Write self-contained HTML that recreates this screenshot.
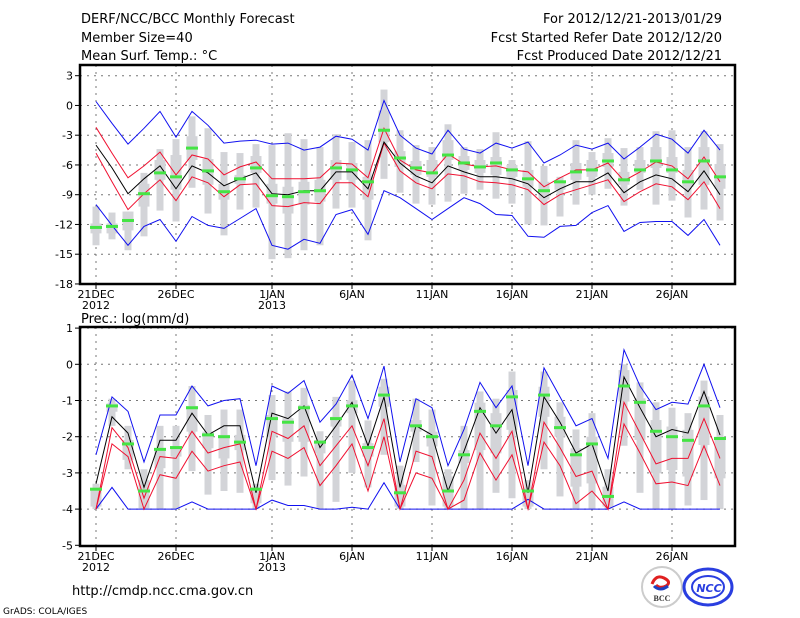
<!DOCTYPE html>
<html><head><meta charset="utf-8"><style>
html,body{margin:0;padding:0;background:#fff;}
svg{display:block;font-family:"DejaVu Sans","Liberation Sans",sans-serif;}
</style></head><body>
<svg id="chart" width="800" height="618" viewBox="0 0 800 618" xmlns="http://www.w3.org/2000/svg">
<rect width="800" height="618" fill="#fff"/>
<g font-size="13" fill="#000">
<text x="81" y="23">DERF/NCC/BCC Monthly Forecast</text>
<text x="81" y="42">Member Size=40</text>
<text x="81" y="60">Mean Surf. Temp.: °C</text>
<text x="722" y="23" text-anchor="end">For 2012/12/21-2013/01/29</text>
<text x="722" y="42" text-anchor="end">Fcst Started Refer Date 2012/12/20</text>
<text x="722" y="60" text-anchor="end">Fcst Produced Date 2012/12/21</text>
<text x="81" y="323">Prec.: log(mm/d)</text>
<text x="72" y="595">http://cmdp.ncc.cma.gov.cn</text>
<text x="3" y="614" font-size="9">GrADS: COLA/IGES</text>
</g>
<g>
<circle cx="662" cy="587" r="20" fill="#fff" stroke="#ccc" stroke-width="2"/>
<path d="M652 584 q4 -10 12 -6 q8 4 2 8 q-6 3 -10 -1" fill="none" stroke="#e02020" stroke-width="3"/>
<path d="M654 586 q6 6 14 0" fill="none" stroke="#2040c0" stroke-width="3"/>
<text x="662" y="601" font-size="8" font-weight="bold" text-anchor="middle" fill="#333" font-family="Liberation Serif,serif">BCC</text>
</g>
<g>
<ellipse cx="708" cy="587" rx="24" ry="18" fill="#fff" stroke="#2a3ee0" stroke-width="3"/>
<ellipse cx="708" cy="587" rx="16" ry="11" fill="#fff" stroke="#2a3ee0" stroke-width="2"/>
<text x="709" y="592" font-size="11" font-style="italic" font-weight="bold" text-anchor="middle" fill="#2a3ee0">NCC</text>
</g>
<g id="plots"></g>
</svg>
<script>
// ---- shared x categories (days from 21DEC 2012) ----
const dayCount = 40;
const xTickDays = [0,5,11,16,21,26,31,36];
const xTickLabels = ["21DEC","26DEC","1JAN","6JAN","11JAN","16JAN","21JAN","26JAN"];
const xTickYears = ["2012","","2013","","","","",""];

// ---- temperature panel ----
const tTicks = [3,0,-3,-6,-9,-12,-15,-18];
const tMaxBlue = [0.4,-1.8,-3.9,-2.3,-0.6,-3.2,-0.6,-2,-3.8,-3.6,-3.5,-3.9,-3.8,-4.5,-4.2,-3.1,-3.4,-4.5,0.5,-3.0,-4.3,-4.9,-2.5,-4.4,-4.8,-3.8,-4.3,-3.7,-5.8,-5,-4,-4.4,-3.8,-5.4,-4.2,-2.9,-3.4,-4.8,-2.5,-4.5];
const tMinBlue = [-10,-12.1,-14.1,-12.2,-11.5,-13.7,-11.2,-12.1,-12.4,-11.4,-10.4,-14.1,-14.5,-13.5,-13.9,-11,-10.5,-13,-8.6,-9.3,-10.4,-11.5,-10.4,-9.3,-9.9,-11,-11.1,-13.2,-13.3,-12.2,-12.1,-10.8,-10.1,-12.7,-11.8,-11.7,-11.7,-13.1,-11.5,-14.1];
const tUpRed = [-2.2,-4.8,-7.3,-6.1,-4.7,-7,-5,-5.4,-7,-6.2,-5.7,-7.4,-7.4,-7.4,-7.3,-5.8,-5.9,-7.3,-2.3,-5.5,-6.5,-6.8,-4.9,-5.9,-6.2,-6.1,-6.5,-6.7,-8.2,-7.3,-6.5,-6.5,-5.8,-7.6,-6.7,-5.7,-6.1,-7.4,-5.2,-7.7];
const tLoRed = [-4.8,-7.7,-10.5,-8.9,-7.5,-9.6,-7.2,-7.8,-9.2,-8,-7.9,-10.1,-10.2,-9.8,-9.9,-7.8,-7.8,-9.2,-3.8,-6.6,-7.8,-8.4,-6.9,-7.1,-7.7,-7.8,-8,-8.5,-10,-9,-8.5,-8,-7.5,-9.7,-8.7,-7.9,-8.2,-9.5,-7.7,-10.4];
const tMean = [-4,-6.3,-8.9,-7.4,-6.1,-8.4,-6.1,-6.8,-8.1,-7.4,-6.8,-8.9,-9,-8.6,-8.6,-6.7,-6.7,-8.4,-3.7,-5.8,-7.1,-7.8,-6.1,-6.7,-7.2,-7.2,-7.4,-7.9,-9.3,-8.4,-7.7,-7.7,-6.8,-8.8,-7.7,-7,-7.4,-8.7,-6.6,-9];
const tObs = [-12.3,-12.2,-11.6,-8.9,-6.8,-7.2,-4.3,-6.6,-8.7,-7.4,-6.3,-9.1,-9.2,-8.7,-8.6,-6.3,-6.5,-7.7,-2.5,-5.3,-6.3,-6.8,-5,-5.8,-6.2,-5.8,-6.5,-7.4,-8.6,-7.7,-6.7,-6.5,-5.6,-7.5,-6.5,-5.6,-6.5,-7.7,-5.6,-7.2];
const tBarHi = [-10.2,-10.8,-10.7,-6.8,-4.4,-3.4,-1.1,-2.3,-4.7,-4.8,-3.9,-4,-2.8,-3.4,-4.2,-2.9,-3.7,-3.5,1.6,-2.5,-4,-4.2,-1.9,-4.2,-4.4,-2.7,-5.5,-3.6,-6.1,-7.2,-3.5,-4.7,-3.3,-4.3,-4.2,-2.6,-2.5,-4.2,-2.6,-3.9];
const tBarLo = [-14.1,-13.5,-14.6,-13.2,-10.6,-11.7,-8.3,-10.9,-13.1,-10.5,-10.3,-15.5,-15.4,-14.6,-14.1,-10.4,-10.3,-13.6,-7.4,-8.8,-9.9,-10,-9.7,-8.9,-8.5,-9.4,-9.9,-12,-12.1,-11.2,-10,-9,-8.4,-10.1,-8.5,-10,-9.6,-11.3,-10.5,-11.6];
const tBoxHi = [-11.9,-11.9,-10.7,-7.9,-5.5,-5,-3.1,-5.4,-7.9,-7,-5.1,-7.9,-8.2,-7.7,-7.5,-5.5,-5.8,-7.2,-0.5,-4.6,-5.6,-5.5,-3.5,-5.1,-5.5,-5.2,-6,-6.5,-7.7,-7.7,-5.8,-5.5,-4.8,-6.7,-5.5,-4.2,-5.2,-6.5,-4.2,-5.9];
const tBoxLo = [-12.9,-12.9,-12.6,-10.2,-7.5,-8.5,-5.5,-8,-9.5,-7.9,-6.8,-9.9,-10.9,-10,-9.7,-7.5,-7.5,-9.5,-3.7,-6.2,-7,-7.2,-5.5,-6.5,-6.8,-7,-7.2,-8.2,-9.5,-8.5,-7.5,-7.2,-6.2,-8,-6.8,-6.3,-6.8,-8.2,-8,-8.4];

// ---- precipitation panel ----
const pTicks = [1,0,-1,-2,-3,-4,-5];
const pMaxBlue = [-2.5,-0.9,-1.3,-2.7,-1.4,-1.4,-0.6,-1.15,-1,-0.95,-2.8,-0.6,-0.8,-0.45,-1.6,-1.1,-0.3,-1.5,-0.05,-2.7,-0.95,-1.2,-2.8,-1.8,-0.5,-1.2,-0.6,-2.8,-0.1,-0.9,-1.7,-1.5,-2.6,0.4,-0.6,-1.25,-1.05,-1.1,0,-1.2];
const pMinBlue = [-4,-3.4,-4,-4,-4,-4,-3.8,-4,-4,-4,-4,-3.75,-3.9,-3.9,-4,-4,-3.95,-4,-3.27,-4,-4,-4,-4,-4,-4,-4,-4,-3.73,-4,-4,-4,-4,-4,-3.8,-4,-4,-4,-4,-4,-4];
const pUpRed = [-4,-1.75,-2.3,-3.7,-2.55,-2.6,-1.85,-2.45,-2.3,-2.2,-4,-1.85,-2.05,-1.7,-2.8,-2.25,-1.7,-2.8,-1.5,-4,-2.4,-2.55,-4,-3.2,-1.9,-2.6,-1.85,-4,-1.6,-2.3,-3.1,-2.95,-4,-1.05,-1.9,-2.75,-2.6,-2.6,-1.5,-2.6];
const pLoRed = [-4,-2.2,-2.55,-4,-3.05,-3.15,-2.4,-2.95,-2.8,-2.7,-4,-2.4,-2.6,-2.3,-3.35,-2.8,-2.2,-3.5,-2,-4,-3,-3.15,-4,-3.75,-2.45,-3.2,-2.5,-4,-2.15,-2.8,-3.85,-3.5,-4,-1.65,-2.45,-3.3,-3.25,-3.35,-2.25,-3.35];
const pMean = [-3.3,-1.45,-1.9,-3.4,-2.1,-2.1,-1.35,-1.95,-1.7,-1.7,-3.55,-1.35,-1.5,-1.15,-2.3,-1.7,-1.05,-2.25,-0.9,-3.4,-1.7,-1.95,-3.5,-2.4,-1.2,-1.9,-1.25,-3.55,-0.9,-1.6,-2.45,-2.2,-3.5,-0.35,-1.2,-2,-1.8,-1.9,-0.75,-1.95];
const pObs = [-3.45,-1.15,-2.2,-3.5,-2.35,-2.3,-1.2,-1.95,-2,-2.15,-3.45,-1.5,-1.6,-1.2,-2.15,-1.5,-1.15,-2.3,-0.85,-3.55,-1.7,-2,-3.5,-2.5,-1.3,-1.7,-0.9,-3.5,-0.85,-1.75,-2.5,-2.2,-3.65,-0.6,-1.05,-1.85,-2,-2.1,-1.15,-2.05];
const pBarHi = [-3.3,-0.95,-1.7,-2.9,-1.7,-1.7,-0.6,-1.4,-1.25,-1.25,-3.3,-0.85,-0.75,-0.65,-1.85,-0.9,-0.45,-1.55,-0.4,-2.8,-0.95,-1.25,-2.9,-1.7,-0.75,-0.95,-0.2,-3.2,-0.2,-1.05,-1.8,-1.35,-2.9,0,-0.5,-1.05,-1.2,-1.35,-0.45,-1.4];
const pBarLo = [-4,-1.7,-2.9,-4,-4,-4,-2.95,-3.6,-3.5,-3.55,-4,-3.2,-3.35,-3.1,-4,-3.8,-3,-3.4,-2.5,-4,-2.7,-3.9,-4,-4,-4,-3.55,-3.7,-4,-2.9,-3.65,-4,-4,-4,-2.25,-3.55,-4,-4,-3.9,-3.75,-4];
const pBoxHi = [-3.43,-1.08,-2.09,-3.2,-2.32,-2.27,-1.15,-1.86,-1.95,-1.95,-3.43,-1.4,-1.49,-1.12,-2.09,-1.45,-0.99,-2.18,-0.62,-3.33,-1.54,-1.86,-3.1,-2.37,-1.06,-1.35,-0.71,-3.43,-0.62,-1.45,-2.32,-2,-3.38,-0.16,-0.94,-1.54,-1.72,-1.81,-0.89,-2];
const pBoxLo = [-3.93,-1.31,-2.64,-3.98,-2.87,-2.55,-1.86,-2.32,-2.6,-2.37,-3.84,-2,-2.14,-2.14,-2.46,-1.72,-1.35,-2.55,-1.17,-3.93,-1.86,-2.27,-3.93,-2.73,-2.37,-2.46,-1.81,-3.93,-1.45,-2,-3.38,-3.29,-3.93,-1.03,-2.09,-3.01,-2.92,-3.1,-2.23,-3.15];

const NS = "http://www.w3.org/2000/svg";
const root = document.getElementById('plots');
const X0 = 80, X1 = 735;
function xScale(d){ return 96 + d*16; }
function mk(tag, attrs, parent){
  const e = document.createElementNS(NS, tag);
  for (const k in attrs) e.setAttribute(k, attrs[k]);
  parent.appendChild(e);
  return e;
}

function panel(name, cfg){
  const g = mk('g', {}, root);
  
  
  const y = v => cfg.yRef + (cfg.vRef - v) * cfg.ppu;
  // grid
  cfg.ticks.forEach(t => {
    const yy = y(t);
    if (t !== cfg.ticks[cfg.ticks.length-1]) {
      const l = mk('line', {x1:X0, x2:X1, y1:yy, y2:yy, stroke:'#777', 'stroke-width':1, 'stroke-dasharray':'2,5'}, g);
      
      
    }
    mk('line', {x1:X0-5, x2:X0, y1:yy, y2:yy, stroke:'#000', 'stroke-width':1}, g);
    const tx = mk('text', {x:X0-7, y:yy+4, 'font-size':11, 'text-anchor':'end'}, g);
    tx.textContent = t;
    
    
  });
  xTickDays.forEach((d,i) => {
    const xx = xScale(d);
    const l = mk('line', {x1:xx, x2:xx, y1:cfg.top, y2:cfg.bottom, stroke:'#777', 'stroke-width':1, 'stroke-dasharray':'2,5'}, g);
    
    
    mk('line', {x1:xx, x2:xx, y1:cfg.bottom, y2:cfg.bottom+5, stroke:'#000', 'stroke-width':1}, g);
    const tx = mk('text', {x:xx, y:cfg.bottom+14, 'font-size':11, 'text-anchor':'middle'}, g);
    tx.textContent = xTickLabels[i];
    
    
    if (xTickYears[i]) {
      const ty = mk('text', {x:xx, y:cfg.bottom+25, 'font-size':11, 'text-anchor':'middle'}, g);
      ty.textContent = xTickYears[i];
      
      
    }
  });
  // gray bars
  for (let i=0;i<dayCount;i++){
    const xx = xScale(i);
    const b = mk('rect', {x:xx-3.5, y:y(cfg.barHi[i]), width:7, height:Math.max(1,y(cfg.barLo[i])-y(cfg.barHi[i])), fill:'#d3d4d8'}, g);
    
    
    const bx = mk('rect', {x:xx-5.5, y:y(cfg.boxHi[i]), width:11, height:Math.max(1,y(cfg.boxLo[i])-y(cfg.boxHi[i])), fill:'#d3d4d8'}, g);
    
    
  }
  function line(arr, color, nm){
    const pts = arr.map((v,i)=> xScale(i)+','+y(v).toFixed(1)).join(' ');
    const p = mk('polyline', {points:pts, fill:'none', stroke:color, 'stroke-width':1}, g);
    
    
  }
  line(cfg.minBlue, '#1010f0', 'min-line');
  line(cfg.maxBlue, '#1010f0', 'max-line');
  line(cfg.loRed, '#f01030', 'lower-spread-line');
  line(cfg.upRed, '#f01030', 'upper-spread-line');
  line(cfg.mean, '#000', 'ensemble-mean-line');
  cfg.obs.forEach((v,i)=>{
    const m = mk('rect', {x:xScale(i)-6, y:y(v)-1.5, width:12, height:3, fill:'#44e444'}, g);
    
    
  });
  const fr = mk('rect', {x:X0, y:cfg.top, width:X1-X0, height:cfg.bottom-cfg.top, fill:'none', stroke:'#000', 'stroke-width':2.5}, g);
  
  
}

panel('temperature-panel', {top:65, bottom:284, yRef:75.7, vRef:3, ppu:29.75/3, ticks:tTicks,
  maxBlue:tMaxBlue, minBlue:tMinBlue, upRed:tUpRed, loRed:tLoRed, mean:tMean, obs:tObs,
  barHi:tBarHi, barLo:tBarLo, boxHi:tBoxHi, boxLo:tBoxLo});
panel('precipitation-panel', {top:327, bottom:546, yRef:364.3, vRef:0, ppu:36.2, ticks:pTicks,
  maxBlue:pMaxBlue, minBlue:pMinBlue, upRed:pUpRed, loRed:pLoRed, mean:pMean, obs:pObs,
  barHi:pBarHi, barLo:pBarLo, boxHi:pBoxHi, boxLo:pBoxLo});
</script>
</body></html>
